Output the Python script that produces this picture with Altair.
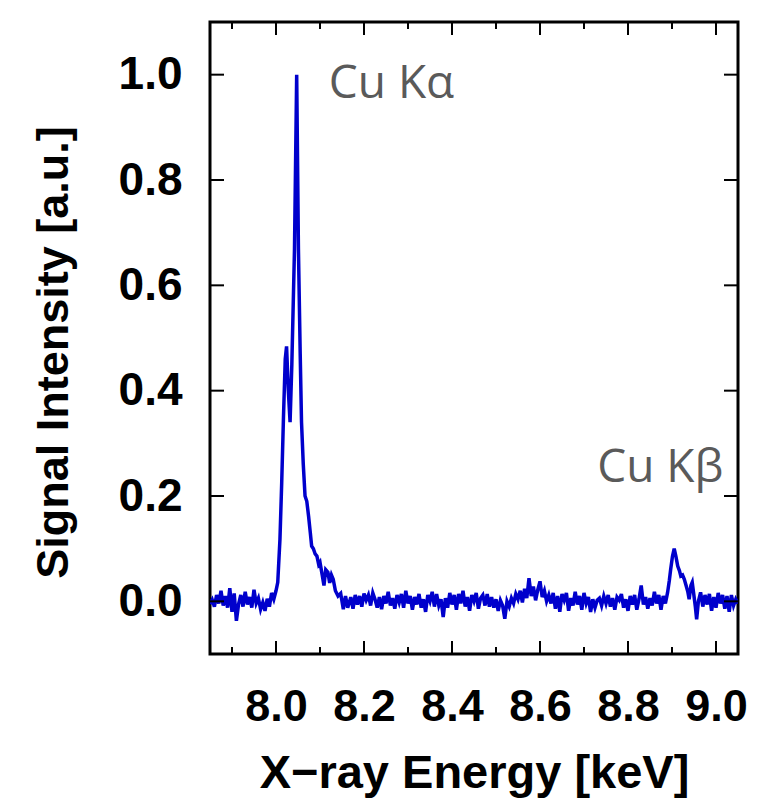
import altair as alt
import pandas as pd

# ---- spectrum data ----
energy = [
    7.850, 7.855, 7.860, 7.865, 7.870, 7.875, 7.880, 7.885, 7.890, 7.895,
    7.900, 7.905, 7.910, 7.915, 7.920, 7.925, 7.930, 7.935, 7.940, 7.945,
    7.950, 7.955, 7.960, 7.965, 7.970, 7.975, 7.980, 7.985, 7.990, 7.995,
    8.000, 8.004, 8.009, 8.013, 8.017, 8.021, 8.024, 8.028, 8.032, 8.036,
    8.042, 8.047, 8.051, 8.055, 8.058, 8.062, 8.066, 8.070, 8.074, 8.078,
    8.081, 8.085, 8.089, 8.093, 8.097, 8.100, 8.105, 8.109, 8.113, 8.118,
    8.122, 8.126, 8.130, 8.135, 8.141, 8.147, 8.153, 8.158, 8.163, 8.170,
    8.175, 8.180, 8.185, 8.190, 8.195, 8.200, 8.205, 8.210, 8.215, 8.220,
    8.225, 8.230, 8.235, 8.240, 8.245, 8.250, 8.255, 8.260, 8.265, 8.270,
    8.275, 8.280, 8.285, 8.290, 8.295, 8.300, 8.305, 8.310, 8.315, 8.320,
    8.325, 8.330, 8.335, 8.340, 8.345, 8.350, 8.355, 8.360, 8.365, 8.370,
    8.375, 8.380, 8.385, 8.390, 8.395, 8.400, 8.405, 8.410, 8.415, 8.420,
    8.425, 8.430, 8.435, 8.440, 8.445, 8.450, 8.455, 8.460, 8.465, 8.470,
    8.475, 8.480, 8.485, 8.490, 8.495, 8.500, 8.505, 8.510, 8.515, 8.520,
    8.525, 8.530, 8.535, 8.540, 8.545, 8.550, 8.555, 8.560, 8.565, 8.570,
    8.575, 8.580, 8.585, 8.590, 8.595, 8.600, 8.605, 8.610, 8.615, 8.620,
    8.625, 8.630, 8.635, 8.640, 8.645, 8.650, 8.655, 8.660, 8.665, 8.670,
    8.675, 8.680, 8.685, 8.690, 8.695, 8.700, 8.705, 8.710, 8.715, 8.720,
    8.725, 8.730, 8.735, 8.740, 8.745, 8.750, 8.755, 8.760, 8.765, 8.770,
    8.775, 8.780, 8.785, 8.790, 8.795, 8.800, 8.805, 8.810, 8.815, 8.820,
    8.825, 8.830, 8.835, 8.840, 8.845, 8.850, 8.855, 8.860, 8.865, 8.870,
    8.875, 8.880, 8.885, 8.890, 8.894, 8.897, 8.901, 8.905, 8.909, 8.913,
    8.917, 8.920, 8.924, 8.928, 8.932, 8.936, 8.939, 8.943, 8.946, 8.950,
    8.953, 8.956, 8.960, 8.965, 8.970, 8.975, 8.980, 8.985, 8.990, 8.995,
    9.000, 9.005, 9.010, 9.015, 9.020, 9.025, 9.030, 9.035, 9.040, 9.045,
    9.050,
]
intensity = [
    -0.005, 0.003, -0.010, 0.012, -0.004, 0.020, -0.008, 0.010, -0.012, 0.025,
    -0.020, 0.015, -0.037, -0.005, 0.012, -0.010, 0.018, -0.006, 0.008, -0.012,
    0.022, -0.004, 0.006, -0.015, -0.002, -0.018, 0.005, -0.010, 0.016, 0.004,
    0.020, 0.036, 0.118, 0.226, 0.350, 0.460, 0.484, 0.400, 0.340, 0.450,
    0.668, 1.000, 0.668, 0.470, 0.340, 0.260, 0.200, 0.190, 0.162, 0.130,
    0.105, 0.100, 0.090, 0.086, 0.070, 0.074, 0.050, 0.030, 0.060, 0.055,
    0.035, 0.050, 0.042, 0.020, 0.010, 0.015, -0.015, 0.010, -0.012, 0.008,
    -0.014, 0.012, -0.006, 0.010, -0.010, 0.015, 0.002, 0.012, -0.008, 0.016,
    0.004, -0.012, 0.008, -0.015, 0.010, -0.004, 0.018, -0.008, 0.006, -0.014,
    0.012, -0.002, 0.014, -0.012, 0.020, -0.004, 0.010, -0.016, 0.008, -0.006,
    0.014, -0.012, 0.004, -0.020, 0.012, 0.000, 0.018, -0.010, 0.014, -0.008,
    0.004, -0.030, 0.006, -0.012, 0.016, -0.006, 0.012, -0.016, 0.014, -0.004,
    0.020, -0.010, 0.008, -0.018, 0.012, 0.000, 0.016, -0.014, 0.006, 0.012,
    -0.008, 0.014, -0.010, 0.008, -0.012, 0.004, -0.018, 0.002, -0.008, -0.033,
    0.000, -0.010, 0.006, -0.004, 0.014, 0.004, 0.020, -0.002, 0.024, 0.006,
    0.044, 0.010, 0.028, 0.002, 0.022, 0.038, 0.008, 0.020, 0.000, 0.012,
    -0.004, 0.016, -0.014, 0.010, -0.020, 0.014, 0.002, 0.016, -0.018, 0.006,
    -0.008, 0.018, -0.006, 0.010, -0.016, 0.016, -0.004, 0.008, -0.020, 0.004,
    -0.012, 0.002, 0.006, -0.008, 0.010, -0.004, 0.012, -0.010, 0.006, -0.016,
    0.008, 0.002, 0.014, -0.012, 0.004, -0.018, 0.010, -0.006, 0.012, -0.016,
    0.004, 0.030, -0.006, 0.008, -0.014, 0.006, -0.008, 0.018, -0.004, 0.012,
    -0.016, 0.010, -0.004, 0.017, 0.040, 0.061, 0.085, 0.100, 0.085, 0.067,
    0.058, 0.048, 0.050, 0.042, 0.030, 0.018, 0.004, 0.030, 0.036, 0.010,
    -0.010, -0.034, 0.000, 0.017, -0.010, 0.012, -0.006, 0.014, -0.018, 0.008,
    -0.012, 0.016, -0.004, 0.012, -0.014, 0.010, -0.020, 0.012, -0.008, 0.004,
    -0.004,
]

# ---- axes / ticks ----
x_major = [8.0, 8.2, 8.4, 8.6, 8.8, 9.0]
x_minor = [7.9, 8.1, 8.3, 8.5, 8.7, 8.9]
y_major = [0.0, 0.2, 0.4, 0.6, 0.8, 1.0]

# ---- annotations ----
ann_labels = ["Cu Kα", "Cu Kβ"]
ann_energy = [8.120, 8.730]
ann_value = [0.956, 0.2265]

W, H = 528, 632
MAJ, MIN = 13, 7

df = pd.DataFrame({"E": energy, "v": intensity})
xmaj = pd.DataFrame({"E": x_major})
xmin = pd.DataFrame({"E": x_minor})
ymaj = pd.DataFrame({"v": y_major})
ann = pd.DataFrame({"E": ann_energy, "v": ann_value, "label": ann_labels})

FONT = "Liberation Sans"
xscale = alt.Scale(domain=[7.85, 9.05], nice=False, zero=False)
yscale = alt.Scale(domain=[-0.1, 1.1], nice=False, zero=False)

xaxis = alt.Axis(
    values=x_major, format=".1f", ticks=False, domain=False, grid=False,
    labelFont=FONT, labelFontWeight="bold", labelFontSize=45, labelColor="black",
    labelPadding=30, labelOverlap=False, labelFlush=False,
    title="X\u2212ray Energy [keV]", titleFont=FONT, titleFontWeight="bold",
    titleFontSize=47, titleColor="black", titleY=96, titleBaseline="top",
)
yaxis = alt.Axis(
    values=y_major, format=".1f", ticks=False, domain=False, grid=False,
    labelFont=FONT, labelFontWeight="bold", labelFontSize=46, labelColor="black",
    labelPadding=28, labelOverlap=False, labelFlush=False,
    title="Signal Intensity [a.u.]", titleFont=FONT, titleFontWeight="bold",
    titleFontSize=45, titleColor="black", titleX=-157, titleY=330,
    titleAngle=-90, titleBaseline="middle", titleAlign="center",
)


def X():
    return alt.X("E:Q", scale=xscale, axis=xaxis)


def Y():
    return alt.Y("v:Q", scale=yscale, axis=yaxis)


line = alt.Chart(df).mark_line(color="#0000cc", strokeWidth=3.5, clip=True).encode(x=X(), y=Y())

tick_style = dict(color="black", strokeWidth=2)
bx_maj = alt.Chart(xmaj).mark_rule(**tick_style).encode(x=X(), y=alt.value(H), y2=alt.value(H - MAJ))
bx_min = alt.Chart(xmin).mark_rule(**tick_style).encode(x=X(), y=alt.value(H), y2=alt.value(H - MIN))
tx_maj = alt.Chart(xmaj).mark_rule(**tick_style).encode(x=X(), y=alt.value(0), y2=alt.value(MAJ))
tx_min = alt.Chart(xmin).mark_rule(**tick_style).encode(x=X(), y=alt.value(0), y2=alt.value(MIN))
ly = alt.Chart(ymaj).mark_rule(**tick_style).encode(y=Y(), x=alt.value(0), x2=alt.value(MAJ + 1))
ry = alt.Chart(ymaj).mark_rule(**tick_style).encode(y=Y(), x=alt.value(W), x2=alt.value(W - MAJ - 1))

text = alt.Chart(ann).mark_text(
    font="Open Sans", fontSize=46, color="#5a5a5a", align="left", baseline="alphabetic"
).encode(x=X(), y=Y(), text="label:N")

chart = alt.layer(line, bx_maj, bx_min, tx_maj, tx_min, ly, ry, text).properties(
    width=W, height=H,
    padding={"left": 202, "top": 14, "right": 20, "bottom": 152},
    autosize="none",
    background="white",
).configure_view(stroke="black", strokeWidth=3)

chart.save("out.html", embed_options={"renderer": "svg", "actions": False})
